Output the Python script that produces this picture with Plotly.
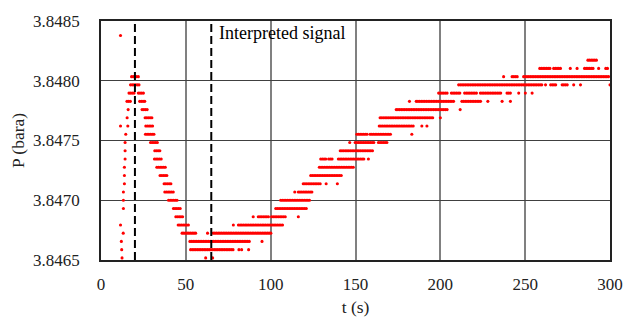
import numpy as np
import plotly.graph_objects as go

# Sensor quantisation: 0.001 psi steps, converted to bara
PSI_TO_BAR = 0.0689476
psi_base = 55.810
psi_step = 0.001

# Runs of readings: level index (psi steps above base), start time, end time (s)
level_idx = [6,
             -21, -20, -19, -18, -17, -15, -14, -13, -12, -11, -10, -9, -8, -7, -6, -5, -5, -4, -3,
             -2, -1, 0, 1,
             -1, -2, -3, -4, -5, -6, -7, -8, -9, -10, -11, -12, -13, -14, -15, -16, -17, -18,
             -19, -19, -20, -20, -20, -20, -21, -21, -18, -18,
             -17, -17, -16, -16, -16, -16, -15, -14, -13, -13,
             -12, -12, -12, -11, -10, -9, -9, -9, -9,
             -8, -7, -7, -7, -6, -6, -6,
             -5, -5, -5, -4, -4, -3, -3,
             -2, -2, -2, -2, -2, -2,
             -1, -1, -1, -1, -1, -1, -1, -1,
             0, 0, 0, 0, 0, 0, 0,
             1, 1, 1,
             2, 2, 2, 2, 2, 2, 2,
             3]
t_start = [11.5,
           12.4, 12.2, 12.0, 13.1, 11.5, 13.2, 13.2, 13.2, 13.8, 13.8, 13.8, 14.2, 14.2, 14.2, 14.6, 11.5, 15.8, 15.4, 16.0,
           15.3, 16.5, 17.4, 18.0,
           22.0, 22.8, 24.2, 26.0, 26.4, 26.2, 29.2, 31.7, 31.5, 32.9, 34.8, 37.2, 37.6, 39.8, 42.7, 44.1, 45.5, 47.8,
           52.4, 94.9, 52.8, 81.3, 82.9, 87.0, 61.7, 65.8, 62.8, 66.1,
           78.0, 81.0, 89.7, 92.7, 100.6, 116.3, 103.0, 105.9, 114.2, 116.3,
           119.2, 132.7, 139.3, 123.6, 128.7, 129.5, 134.2, 139.9, 157.6,
           141.0, 146.6, 149.8, 163.5, 150.8, 158.6, 183.2,
           164.0, 189.1, 192.1, 164.5, 200.0, 174.0, 211.7,
           181.8, 185.8, 212.7, 228.0, 236.4, 241.3,
           199.0, 206.5, 214.3, 223.6, 239.3, 246.2, 250.1, 254.1,
           210.8, 262.0, 265.0, 271.8, 278.6, 282.6, 300.0,
           237.3, 242.3, 249.1,
           258.6, 266.8, 276.6, 280.6, 285.0, 293.3, 297.5,
           287.0]
t_end = [11.5,
         12.4, 12.2, 12.0, 13.1, 11.5, 13.2, 13.2, 13.2, 13.8, 13.8, 13.8, 14.2, 14.2, 14.2, 14.6, 11.5, 15.8, 15.4, 16.0,
         18.1, 19.9, 23.3, 22.4,
         25.2, 26.4, 27.2, 30.1, 30.7, 32.1, 33.5, 34.7, 35.8, 38.0, 39.2, 41.6, 43.3, 45.5, 47.5, 48.8, 52.0, 56.3,
         87.7, 94.9, 77.9, 81.3, 82.9, 87.0, 61.7, 65.8, 62.8, 101.0,
         78.0, 107.4, 89.7, 99.6, 109.4, 116.3, 121.0, 123.6, 114.2, 125.2,
         129.7, 132.7, 139.3, 142.5, 149.2, 132.6, 136.6, 155.7, 157.6,
         160.5, 146.6, 161.6, 168.5, 157.0, 171.4, 183.2,
         184.2, 189.1, 192.1, 196.0, 200.0, 204.0, 211.7,
         181.8, 207.8, 224.6, 228.0, 236.4, 241.3,
         204.0, 212.3, 222.2, 236.4, 241.3, 246.2, 250.1, 254.1,
         260.0, 262.0, 268.8, 275.6, 278.6, 282.6, 300.0,
         237.3, 246.2, 300.0,
         264.9, 271.2, 276.6, 280.6, 290.0, 293.3, 299.3,
         292.9]

event_times = [20, 65]          # dashed markers
annotation_text = "Interpreted signal"

x_ticks = [0, 50, 100, 150, 200, 250, 300]
y_ticks = [3.8465, 3.8470, 3.8475, 3.8480, 3.8485]

SAMPLE_DT = 1.0
ts, ps = [], []
for n, a, b in zip(level_idx, t_start, t_end):
    p = (psi_base + n * psi_step) * PSI_TO_BAR
    tt = np.arange(a, b + 1e-6, SAMPLE_DT) if b > a else np.array([a])
    ts.extend(tt.tolist())
    ps.extend([p] * len(tt))

FONT = "Liberation Serif, Times New Roman, serif"

fig = go.Figure()
fig.add_trace(go.Scatter(x=ts, y=ps, mode="markers",
                         marker=dict(color="#ff0000", size=3.1, line=dict(width=0)),
                         showlegend=False, hoverinfo="skip"))

for t in event_times:
    fig.add_shape(type="line", xref="x", yref="paper", x0=t, x1=t, y0=0, y1=1,
                  line=dict(color="black", width=2, dash="8px,4px"), layer="above")

fig.add_annotation(x=68.2, y=3.848397, xref="x", yref="y", text=annotation_text,
                   showarrow=False, xanchor="left", yanchor="middle",
                   font=dict(family=FONT, size=18, color="black"))

fig.update_layout(
    width=638, height=326,
    margin=dict(l=101, r=28, t=14, b=60),
    paper_bgcolor="white", plot_bgcolor="white",
    font=dict(family=FONT, size=17, color="#222"),
)
fig.update_xaxes(range=[0, 300], tickvals=x_ticks, ticktext=[str(v) for v in x_ticks],
                 showgrid=True, gridcolor="#808080", gridwidth=1.5,
                 showline=True, linecolor="#222", linewidth=1.5, mirror=True,
                 zeroline=False, ticks="", ticklabelstandoff=8,
                 title=dict(text="t (s)", standoff=8, font=dict(size=17.5)),
                 tickfont=dict(size=17))
fig.update_yaxes(range=[3.8465, 3.8485], tickvals=y_ticks, ticktext=[f"{v:.4f}" for v in y_ticks],
                 showgrid=True, gridcolor="#404040", gridwidth=1,
                 showline=True, linecolor="#222", linewidth=1.5, mirror=True,
                 zeroline=False, ticks="", ticklabelstandoff=16,
                 title=dict(text="P (bara)", standoff=4, font=dict(size=17.5)),
                 tickfont=dict(size=17))

fig.write_html("out.html")
